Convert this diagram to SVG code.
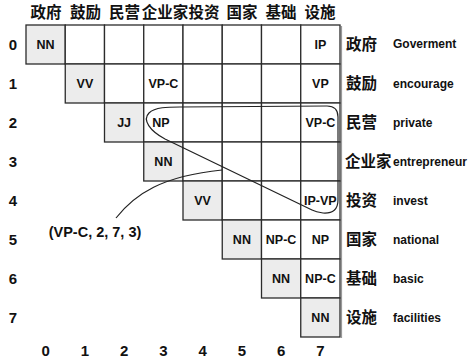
<svg xmlns="http://www.w3.org/2000/svg" width="470" height="360" viewBox="0 0 470 360">
<style>
.c{fill:#ffffff;stroke:#2b2b2b;stroke-width:1.3}
.d{fill:#ececec;stroke:#2b2b2b;stroke-width:1.3}
.t{font-family:"Liberation Sans",Arial,sans-serif;font-weight:bold;font-size:12.5px;fill:#111;text-anchor:middle}
.n{font-family:"Liberation Sans",Arial,sans-serif;font-weight:bold;font-size:15px;fill:#111;text-anchor:middle}
.z{font-family:"Noto Sans CJK SC",sans-serif;font-weight:bold;font-size:15.5px;fill:#111}
.e{font-family:"Liberation Sans",Arial,sans-serif;font-weight:bold;font-size:12px;fill:#111}
.l{fill:none;stroke:#222;stroke-width:1.2}
</style>
<rect width="470" height="360" fill="#fff"/>
<g id="headers">
<text class="z" x="46" y="18" text-anchor="middle">政府</text>
<text class="z" x="85.5" y="18" text-anchor="middle">鼓励</text>
<text class="z" x="124.5" y="18" text-anchor="middle">民营</text>
<text class="z" x="165" y="18" text-anchor="middle">企业家</text>
<text class="z" x="204" y="18" text-anchor="middle">投资</text>
<text class="z" x="242" y="18" text-anchor="middle">国家</text>
<text class="z" x="281" y="18" text-anchor="middle">基础</text>
<text class="z" x="320" y="18" text-anchor="middle">设施</text>
</g>
<g id="row-numbers">
<text class="n" x="13" y="50">0</text>
<text class="n" x="13" y="89">1</text>
<text class="n" x="13" y="128">2</text>
<text class="n" x="13" y="167">3</text>
<text class="n" x="13" y="206">4</text>
<text class="n" x="13" y="245">5</text>
<text class="n" x="13" y="284">6</text>
<text class="n" x="13" y="323">7</text>
</g>
<g id="col-numbers">
<text class="n" x="45.6" y="356">0</text>
<text class="n" x="84.9" y="356">1</text>
<text class="n" x="124.1" y="356">2</text>
<text class="n" x="163.4" y="356">3</text>
<text class="n" x="202.6" y="356">4</text>
<text class="n" x="241.9" y="356">5</text>
<text class="n" x="281.1" y="356">6</text>
<text class="n" x="320.4" y="356">7</text>
</g>
<line x1="341.5" y1="26" x2="341.5" y2="338" stroke="#999" stroke-width="1.2"/>
<g id="row0">
<g id="cell-0-0"><rect class="d" x="26" y="25" width="39.25" height="39"/><text class="t" x="45.6" y="49">NN</text></g>
<rect class="c" x="65.25" y="25" width="39.25" height="39"/>
<rect class="c" x="104.5" y="25" width="39.25" height="39"/>
<rect class="c" x="143.75" y="25" width="39.25" height="39"/>
<rect class="c" x="183" y="25" width="39.25" height="39"/>
<rect class="c" x="222.25" y="25" width="39.25" height="39"/>
<rect class="c" x="261.5" y="25" width="39.25" height="39"/>
<g id="cell-0-7"><rect class="c" x="300.75" y="25" width="39.25" height="39"/><text class="t" x="320.4" y="49">IP</text></g>
</g>
<g id="row1">
<g id="cell-1-1"><rect class="d" x="65.25" y="64" width="39.25" height="39"/><text class="t" x="84.9" y="88">VV</text></g>
<rect class="c" x="104.5" y="64" width="39.25" height="39"/>
<g id="cell-1-3"><rect class="c" x="143.75" y="64" width="39.25" height="39"/><text class="t" x="163.4" y="88">VP-C</text></g>
<rect class="c" x="183" y="64" width="39.25" height="39"/>
<rect class="c" x="222.25" y="64" width="39.25" height="39"/>
<rect class="c" x="261.5" y="64" width="39.25" height="39"/>
<g id="cell-1-7"><rect class="c" x="300.75" y="64" width="39.25" height="39"/><text class="t" x="320.4" y="88">VP</text></g>
</g>
<g id="row2">
<g id="cell-2-2"><rect class="d" x="104.5" y="103" width="39.25" height="39"/><text class="t" x="124.1" y="127">JJ</text></g>
<g id="cell-2-3"><rect class="c" x="143.75" y="103" width="39.25" height="39"/><text class="t" x="161" y="127">NP</text></g>
<rect class="c" x="183" y="103" width="39.25" height="39"/>
<rect class="c" x="222.25" y="103" width="39.25" height="39"/>
<rect class="c" x="261.5" y="103" width="39.25" height="39"/>
<g id="cell-2-7"><rect class="c" x="300.75" y="103" width="39.25" height="39"/><text class="t" x="320.4" y="127">VP-C</text></g>
</g>
<g id="row3">
<g id="cell-3-3"><rect class="d" x="143.75" y="142" width="39.25" height="39"/><text class="t" x="163.4" y="166">NN</text></g>
<rect class="c" x="183" y="142" width="39.25" height="39"/>
<rect class="c" x="222.25" y="142" width="39.25" height="39"/>
<rect class="c" x="261.5" y="142" width="39.25" height="39"/>
<rect class="c" x="300.75" y="142" width="39.25" height="39"/>
</g>
<g id="row4">
<g id="cell-4-4"><rect class="d" x="183" y="181" width="39.25" height="39"/><text class="t" x="202.6" y="205">VV</text></g>
<rect class="c" x="222.25" y="181" width="39.25" height="39"/>
<rect class="c" x="261.5" y="181" width="39.25" height="39"/>
<g id="cell-4-7"><rect class="c" x="300.75" y="181" width="39.25" height="39"/><text class="t" x="320.4" y="205">IP-VP</text></g>
</g>
<g id="row5">
<g id="cell-5-5"><rect class="d" x="222.25" y="220" width="39.25" height="39"/><text class="t" x="241.9" y="244">NN</text></g>
<g id="cell-5-6"><rect class="c" x="261.5" y="220" width="39.25" height="39"/><text class="t" x="281.1" y="244">NP-C</text></g>
<g id="cell-5-7"><rect class="c" x="300.75" y="220" width="39.25" height="39"/><text class="t" x="320.4" y="244">NP</text></g>
</g>
<g id="row6">
<g id="cell-6-6"><rect class="d" x="261.5" y="259" width="39.25" height="39"/><text class="t" x="281.1" y="283">NN</text></g>
<g id="cell-6-7"><rect class="c" x="300.75" y="259" width="39.25" height="39"/><text class="t" x="320.4" y="283">NP-C</text></g>
</g>
<g id="row7">
<g id="cell-7-7"><rect class="d" x="300.75" y="298" width="39.25" height="39"/><text class="t" x="320.4" y="322">NN</text></g>
</g>
<g id="row-labels">
<text class="z" x="346" y="50">政府</text><text class="e" x="393" y="48">Goverment</text>
<text class="z" x="346" y="89">鼓励</text><text class="e" x="393" y="88">encourage</text>
<text class="z" x="346" y="128">民营</text><text class="e" x="393" y="127">private</text>
<text class="z" x="345" y="167">企业家</text><text class="e" x="393" y="166">entrepreneur</text>
<text class="z" x="346" y="206">投资</text><text class="e" x="393" y="205">invest</text>
<text class="z" x="346" y="245">国家</text><text class="e" x="393" y="244">national</text>
<text class="z" x="346" y="284">基础</text><text class="e" x="393" y="283">basic</text>
<text class="z" x="346" y="323">设施</text><text class="e" x="393" y="322">facilities</text>
</g>
<g id="connectors">
<path class="l" d="M312,210 L165,139 C150,131 142,120 149,113 C155,107 168,107 180,107 L327,106 Q338,106 338,117 L338,200 Q338,214 323,213 Q316,212 312,210 Z"/>
<path class="l" d="M116,218 C135,194 162,176 222,170"/>
</g>
<g id="annotation">
<text class="n" x="95" y="237" style="font-size:14.5px">(VP-C, 2, 7, 3)</text>
</g>
</svg>
